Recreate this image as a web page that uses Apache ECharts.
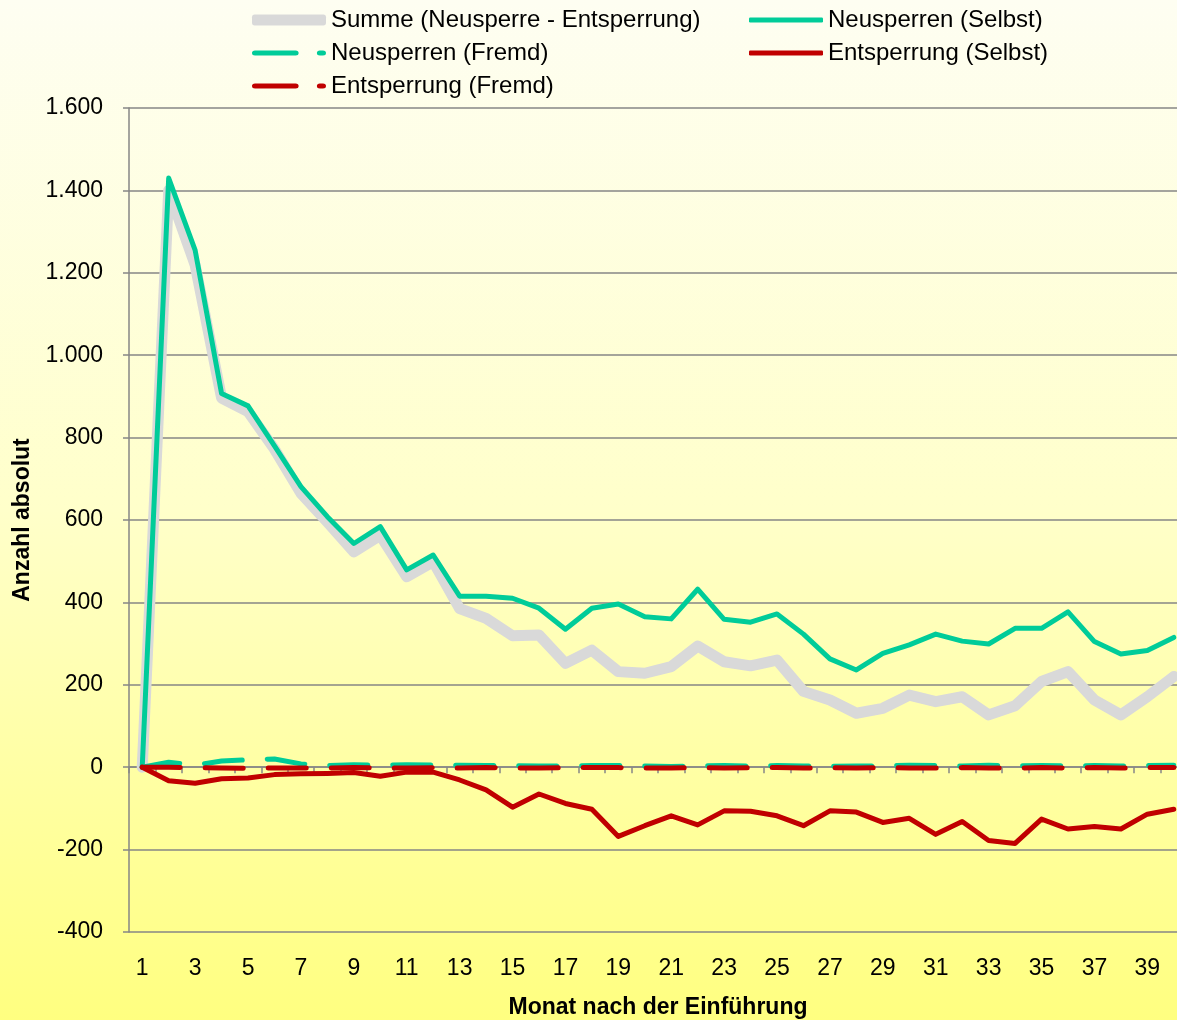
<!DOCTYPE html>
<html>
<head>
<meta charset="utf-8">
<script src="https://cdn.jsdelivr.net/npm/echarts@6/dist/echarts.min.js"></script>
<style>
  html, body { margin: 0; padding: 0; }
  #chart { width: 1177px; height: 1020px; }
</style>
</head>
<body>
<div id="chart"></div>
<script>
// ---- data ----
const months = [];
for (let m = 1; m <= 40; m++) months.push(String(m));

const seriesNames = [
  'Summe (Neusperre - Entsperrung)',
  'Neusperren (Selbst)',
  'Neusperren (Fremd)',
  'Entsperrung (Selbst)',
  'Entsperrung (Fremd)'
];

const summe = [0, 1400, 1219, 896, 863, 772, 665, 595, 523, 563,
  462, 499, 385, 361, 319, 321, 252, 284, 232, 228,
  244, 294, 256, 246, 260, 184, 163, 131, 143, 175,
  159, 171, 127, 149, 208, 232, 163, 127, 171, 220];

const neuSelbst = [0, 1430, 1255, 907, 877, 780, 681, 608, 543, 584,
  479, 515, 415, 415, 410, 386, 335, 386, 396, 365,
  360, 432, 359, 352, 372, 323, 263, 236, 276, 297,
  323, 306, 299, 337, 337, 377, 305, 275, 283, 315];

const neuFremd = [0, 12, 5, 15, 18, 20, 8, 4, 6, 5,
  6, 5, 5, 4, 4, 3, 3, 4, 4, 3,
  2, 3, 4, 3, 4, 3, 2, 3, 3, 5,
  4, 3, 5, 3, 4, 3, 4, 3, 4, 5];

const entSelbst = [0, -33, -39, -28, -26, -18, -16, -15, -13, -22,
  -12, -12, -31, -55, -97, -65, -88, -102, -168, -142,
  -118, -140, -106, -107, -118, -142, -106, -109, -134, -124,
  -163, -132, -178, -185, -126, -150, -144, -150, -114, -102];

const entFremd = [0, 0, -1, -2, -3, -2, -2, -2, -1, -2,
  -2, -1, -2, -1, -2, -2, -1, -1, -1, -2,
  -2, -1, -2, -1, -1, -2, -1, -2, -1, -2,
  -2, -1, -2, -2, -1, -2, -1, -2, -1, -1];

const yMin = -400, yMax = 1600, yStep = 200;

// ---- styling ----
const FONT = 'Liberation Sans';
const GRID_GRAY = '#868686';
const TEAL = '#00CC99';
const RED = '#C00000';
const GRAY = '#D9D9D9';

const SOLID_ICON = 'roundRect';
const DASH_ICON = 'path://M3,0H43A3,3 0 0 1 43,6H3A3,3 0 0 1 3,0Z M67,0H70A3,3 0 0 1 70,6H67A3,3 0 0 1 67,0Z';

function fmtDE(v) {
  const s = String(Math.abs(v));
  const withDots = s.replace(/\B(?=(\d{3})+(?!\d))/g, '.');
  return (v < 0 ? '-' : '') + withDots;
}

function legendAt(name, left, top, icon, h) {
  return {
    data: [name],
    left: left, top: top,
    padding: 0,
    icon: icon,
    symbolKeepAspect: false,
    itemWidth: 74, itemHeight: h,
    itemGap: 0,
    selectedMode: false,
    textStyle: { fontFamily: FONT, fontSize: 24, color: '#000' }
  };
}

const chart = echarts.init(document.getElementById('chart'), null, { renderer: 'canvas' });

const lineBase = {
  type: 'line',
  symbol: 'none',
  smooth: false,
  animation: false,
  xAxisIndex: 0,
  yAxisIndex: 0
};

chart.setOption({
  animation: false,
  backgroundColor: {
    type: 'linear', x: 0, y: 0, x2: 0, y2: 1,
    colorStops: [
      { offset: 0, color: '#FEFEF2' },
      { offset: 0.5, color: '#FFFFCA' },
      { offset: 1, color: '#FFFF80' }
    ]
  },
  textStyle: { fontFamily: FONT },
  legend: [
    legendAt(seriesNames[0], 252, 8, SOLID_ICON, 11),
    legendAt(seriesNames[1], 749, 8, SOLID_ICON, 5),
    legendAt(seriesNames[2], 252, 41, DASH_ICON, 5),
    legendAt(seriesNames[3], 749, 41, SOLID_ICON, 5),
    legendAt(seriesNames[4], 252, 74, DASH_ICON, 5)
  ],
  grid: { left: 129, top: 108, bottom: 88, right: -10, containLabel: false, outerBoundsMode: 'none' },
  xAxis: [
    {
      type: 'category',
      data: months,
      position: 'bottom',
      boundaryGap: true,
      axisLine: { show: false, onZero: false },
      axisTick: { show: false },
      axisLabel: { interval: 1, margin: 25, fontFamily: FONT, fontSize: 23, color: '#000' },
      splitLine: { show: false },
      name: 'Monat nach der Einführung',
      nameLocation: 'middle',
      nameGap: 64,
      nameTextStyle: { fontFamily: FONT, fontSize: 23, fontWeight: 'bold', color: '#000' }
    },
    {
      type: 'category',
      data: months,
      position: 'bottom',
      boundaryGap: true,
      axisLine: { show: true, onZero: true, onZeroAxisIndex: 0, lineStyle: { color: GRID_GRAY, width: 1.5 } },
      axisTick: { show: true, interval: 0, length: 6, inside: false, lineStyle: { color: GRID_GRAY, width: 1.5 } },
      axisLabel: { show: false },
      splitLine: { show: false }
    }
  ],
  yAxis: {
    type: 'value',
    min: yMin, max: yMax, interval: yStep,
    axisLine: { show: true, onZero: false, lineStyle: { color: GRID_GRAY, width: 1.5 } },
    axisTick: { show: true, length: 6, lineStyle: { color: GRID_GRAY, width: 1.5 } },
    axisLabel: { margin: 26, fontFamily: FONT, fontSize: 23, color: '#000', formatter: fmtDE },
    splitLine: { show: true, lineStyle: { color: GRID_GRAY, width: 1.5 } },
    name: 'Anzahl absolut',
    nameLocation: 'middle',
    nameGap: 95,
    nameTextStyle: { fontFamily: FONT, fontSize: 23, fontWeight: 'bold', color: '#000' }
  },
  series: [
    Object.assign({}, lineBase, {
      name: seriesNames[0], data: summe,
      lineStyle: { color: GRAY, width: 11, cap: 'round', join: 'round' },
      itemStyle: { color: GRAY }
    }),
    Object.assign({}, lineBase, {
      name: seriesNames[1], data: neuSelbst,
      lineStyle: { color: TEAL, width: 5, cap: 'round', join: 'round' },
      itemStyle: { color: TEAL }
    }),
    Object.assign({}, lineBase, {
      name: seriesNames[2], data: neuFremd,
      lineStyle: { color: TEAL, width: 5, type: [38, 25], cap: 'round', join: 'round' },
      itemStyle: { color: TEAL }
    }),
    Object.assign({}, lineBase, {
      name: seriesNames[3], data: entSelbst,
      lineStyle: { color: RED, width: 5, cap: 'round', join: 'round' },
      itemStyle: { color: RED }
    }),
    Object.assign({}, lineBase, {
      name: seriesNames[4], data: entFremd,
      lineStyle: { color: RED, width: 5, type: [38, 25], cap: 'round', join: 'round' },
      itemStyle: { color: RED }
    })
  ]
});
</script>
</body>
</html>
